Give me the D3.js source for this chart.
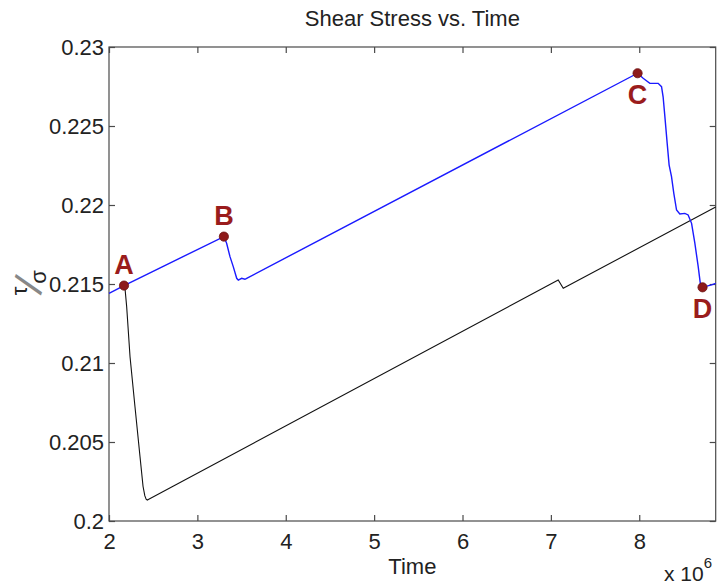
<!DOCTYPE html>
<html>
<head>
<meta charset="utf-8">
<script src="https://cdn.jsdelivr.net/npm/d3@7"></script>
<style>
  html, body { margin: 0; padding: 0; background: #fff; }
  svg { display: block; }
  text { font-family: "Liberation Sans", Arial, Helvetica, sans-serif; }
</style>
</head>
<body>
<svg id="chart" width="720" height="586"></svg>
<script>
// ---- data (time in units of 1e6) ----
const blueX = [2.0, 2.17, 3.30, 3.331, 3.369, 3.406, 3.445, 3.463, 3.501, 3.538, 3.558,
  7.981, 8.044, 8.120, 8.176, 8.214, 8.252, 8.270, 8.290, 8.316, 8.338, 8.365, 8.391,
  8.422, 8.459, 8.516, 8.553, 8.592, 8.629, 8.667, 8.693, 8.716, 8.818, 8.865];
const blueY = [0.21441, 0.2149, 0.2180, 0.21758, 0.21673, 0.21610, 0.21536, 0.21525, 0.21536, 0.21530, 0.21536,
  0.22834, 0.22802, 0.22770, 0.22770, 0.22770, 0.22749, 0.22685, 0.22559, 0.22390, 0.22253, 0.22179, 0.22074,
  0.21968, 0.21943, 0.21947, 0.21937, 0.21884, 0.21758, 0.21610, 0.21494, 0.21479, 0.21494, 0.21504];

const blackX = [2.17, 2.181, 2.200, 2.238, 2.294, 2.351, 2.385, 2.405, 2.420, 2.433, 2.45, 7.083, 7.140, 8.865];
const blackY = [0.2149, 0.21473, 0.21356, 0.21040, 0.20723, 0.20407, 0.20220, 0.20160, 0.20138, 0.20133, 0.20138, 0.21525, 0.21473, 0.21987];

const pointLabels = ["A", "B", "C", "D"];
const pointX = [2.17, 3.30, 7.981, 8.716];
const pointY = [0.2149, 0.2180, 0.22834, 0.21479];
const labelBelow = [false, false, true, true];

const xTicks = [2, 3, 4, 5, 6, 7, 8];
const xTickLabels = ["2", "3", "4", "5", "6", "7", "8"];
const yTicks = [0.2, 0.205, 0.21, 0.215, 0.22, 0.225, 0.23];
const yTickLabels = ["0.2", "0.205", "0.21", "0.215", "0.22", "0.225", "0.23"];

const titleText = "Shear Stress vs. Time";
const xLabelText = "Time";

// ---- layout ----
const L = 109, R = 715.7, T = 47, B = 521;
const svg = d3.select("#chart");
const x = d3.scaleLinear().domain([2, 8.865]).range([L, R]);
const y = d3.scaleLinear().domain([0.2, 0.23]).range([B, T]);
const axisColor = "#4a4a4a";
const textColor = "#222";
const tickLen = 6;

// frame
svg.append("rect").attr("x", L).attr("y", T).attr("width", R - L).attr("height", B - T)
  .attr("fill", "#fff").attr("stroke", axisColor).attr("stroke-width", 1.2);

// axes (ticks inward)
const fs = 22;
const gBottom = svg.append("g").attr("transform", `translate(0,${B})`)
  .call(d3.axisBottom(x).tickValues(xTicks).tickSizeInner(-tickLen).tickSizeOuter(0)
    .tickPadding(12).tickFormat((d, i) => xTickLabels[i]));
const gTop = svg.append("g").attr("transform", `translate(0,${T})`)
  .call(d3.axisTop(x).tickValues(xTicks).tickSizeInner(-tickLen).tickSizeOuter(0).tickFormat(""));
const gLeft = svg.append("g").attr("transform", `translate(${L},0)`)
  .call(d3.axisLeft(y).tickValues(yTicks).tickSizeInner(-tickLen).tickSizeOuter(0)
    .tickPadding(5).tickFormat((d, i) => yTickLabels[i]));
const gRight = svg.append("g").attr("transform", `translate(${R},0)`)
  .call(d3.axisRight(y).tickValues(yTicks).tickSizeInner(-tickLen).tickSizeOuter(0).tickFormat(""));
[gBottom, gTop, gLeft, gRight].forEach(g => {
  g.select(".domain").remove();
  g.selectAll(".tick line").attr("stroke", axisColor).attr("stroke-width", 1.2);
  g.selectAll("text").attr("font-size", fs).attr("fill", textColor)
    .attr("font-family", "'Liberation Sans', Arial, sans-serif");
});

// lines
const line = d3.line().x(d => x(d[0])).y(d => y(d[1]));
svg.append("path").datum(blackX.map((v, i) => [v, blackY[i]]))
  .attr("d", line).attr("fill", "none").attr("stroke", "#111").attr("stroke-width", 1.1);
svg.append("path").datum(blueX.map((v, i) => [v, blueY[i]]))
  .attr("d", line).attr("fill", "none").attr("stroke", "#1a1aff").attr("stroke-width", 1.4);

// points + labels
const ptColor = "#8e1a1a";
pointX.forEach((px, i) => {
  svg.append("circle").attr("cx", x(px)).attr("cy", y(pointY[i])).attr("r", 4.6)
    .attr("fill", ptColor).attr("stroke", "#6a1010").attr("stroke-width", 0.8);
  svg.append("text").attr("x", x(px)).attr("y", y(pointY[i]) + (labelBelow[i] ? 31 : -12))
    .attr("text-anchor", "middle").attr("font-size", 27).attr("font-weight", "bold")
    .attr("fill", "#9a1c1c").text(pointLabels[i]);
});

// title
svg.append("text").attr("x", (L + R) / 2).attr("y", 26).attr("text-anchor", "middle")
  .attr("font-size", 22).attr("fill", textColor).text(titleText);

// x label
svg.append("text").attr("x", (L + R) / 2).attr("y", 574).attr("text-anchor", "middle")
  .attr("font-size", 22).attr("fill", textColor).text(xLabelText);

// exponent
const ex = svg.append("text").attr("x", 664).attr("y", 581).attr("font-size", 21).attr("fill", textColor);
ex.append("tspan").text("x 10");
ex.append("tspan").attr("dy", -13).attr("font-size", 15).text("6");

// y label: tau / sigma, rotated (reads bottom to top)
svg.append("text").attr("transform", "translate(21,291) rotate(-90)")
  .attr("text-anchor", "middle").attr("dy", "0.25em")
  .attr("font-size", 22).attr("fill", textColor).text("τ");
svg.append("text").attr("transform", "translate(29,285) rotate(-70)")
  .attr("text-anchor", "middle").attr("dy", "0.34em")
  .attr("font-size", 42).attr("font-weight", "100").attr("fill", "#888").text("/");
svg.append("text").attr("transform", "translate(40,277) rotate(-90)")
  .attr("text-anchor", "middle").attr("dy", "0.25em")
  .attr("font-size", 22).attr("fill", textColor).text("σ");
</script>
</body>
</html>
